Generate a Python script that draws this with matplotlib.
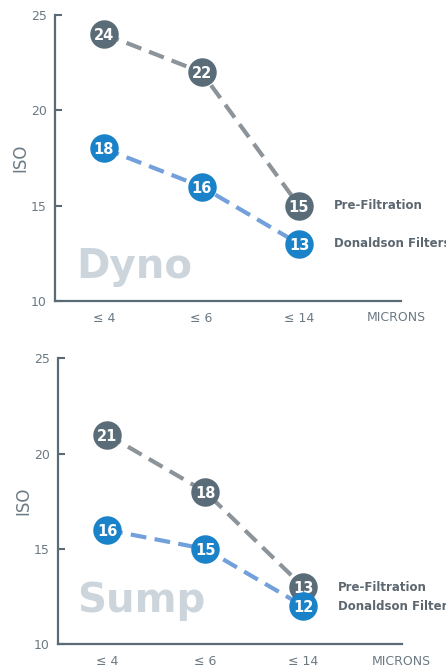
import matplotlib
matplotlib.use('Agg')
import matplotlib.pyplot as plt
from matplotlib import font_manager

# data
categories = ['\u2264 4', '\u2264 6', '\u2264 14']
dyno_pre = [24, 22, 15]
dyno_don = [18, 16, 13]
sump_pre = [21, 18, 13]
sump_don = [16, 15, 12]
yticks = [10, 15, 20, 25]
series_names = ['Pre-Filtration', 'Donaldson Filters']

names = {f.name for f in font_manager.fontManager.ttflist}
narrow = 'Liberation Sans Narrow' if 'Liberation Sans Narrow' in names else 'DejaVu Sans'

axis_col = '#5b6b75'
tick_col = '#6b7983'
pre_mark = '#596c78'
pre_line = '#8c949a'
don_mark = '#1a82c8'
don_line = '#72a0da'
wm_col = '#cdd5dc'


def panel(ax, pre, don, title, xlim, wm_xy):
    x = list(range(len(categories)))
    ax.set_xlim(*xlim)
    ax.set_ylim(10, 25)

    ax.text(wm_xy[0], wm_xy[1], title, fontsize=29, fontweight='bold',
            color=wm_col, family='DejaVu Sans', ha='left', va='baseline', zorder=1)

    for vals, lc, mc, z in [(pre, pre_line, pre_mark, 3), (don, don_line, don_mark, 5)]:
        ax.plot(x, vals, color=lc, lw=3, dashes=(3.8, 2.0), zorder=2)
        ax.plot(x, vals, 'o', ms=20.5, color=mc, mec='none', zorder=z)
        for xi, v in zip(x, vals):
            ax.text(xi, v, str(v), color='white', fontsize=10.5, fontweight='bold',
                    ha='center', va='center_baseline', zorder=z + 0.5)

    for vals, name in zip([pre, don], series_names):
        ax.annotate(name, (x[-1], vals[-1]), xytext=(25, 0), textcoords='offset points',
                    ha='left', va='center', fontsize=8.5, fontweight='bold',
                    color='#5c6770', annotation_clip=False)

    ax.spines['top'].set_visible(False)
    ax.spines['right'].set_visible(False)
    for s in ['left', 'bottom']:
        ax.spines[s].set_color(axis_col)
        ax.spines[s].set_linewidth(1.6)

    ax.set_yticks(yticks)
    ax.tick_params(axis='y', direction='in', length=5, width=1.5, color=axis_col,
                   labelcolor=tick_col, labelsize=9, pad=6)
    for lab in ax.get_yticklabels():
        lab.set_family(narrow)

    ax.set_xticks(x)
    ax.set_xticklabels(categories)
    ax.tick_params(axis='x', length=0, labelcolor=tick_col, labelsize=9, pad=8)
    for lab in ax.get_xticklabels():
        lab.set_family(narrow)

    ax.text(3.0, -0.059, 'MICRONS', transform=ax.get_xaxis_transform(), ha='center',
            va='center', fontsize=9, color=tick_col, family=narrow)

    ax.set_ylabel('ISO', fontsize=12, color=tick_col, family=narrow, va='center')
    ax.yaxis.set_label_coords(-0.1, 0.5)


fig = plt.figure(figsize=(4.46, 6.71), dpi=100)
ax1 = fig.add_axes([0.1233, 0.5514, 0.7758, 0.4262])
ax2 = fig.add_axes([0.1300, 0.0398, 0.7706, 0.4262])

panel(ax1, dyno_pre, dyno_don, 'Dyno', (-0.503, 3.046), (-0.28, 11.2))
panel(ax2, sump_pre, sump_don, 'Sump', (-0.50, 3.0), (-0.31, 11.7))

fig.savefig('out.png', dpi=100)
